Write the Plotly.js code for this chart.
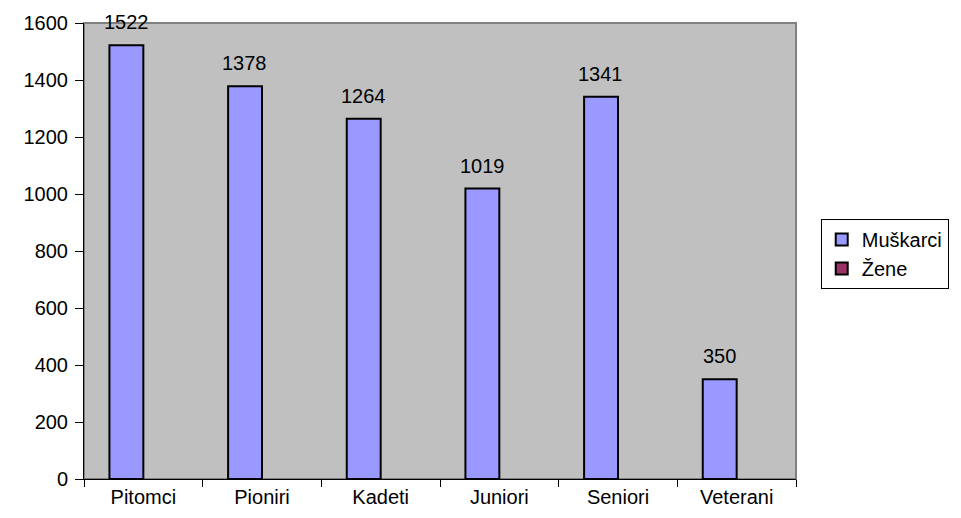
<!DOCTYPE html>
<html>
<head>
<meta charset="utf-8">
<script src="https://cdn.plot.ly/plotly-3.0.1.min.js"></script>
<style>html,body{margin:0;padding:0;background:#fff;}#chart{width:961px;height:518px;}</style>
</head>
<body>
<div id="chart"></div>
<script>
const categories = ["Pitomci", "Pioniri", "Kadeti", "Juniori", "Seniori", "Veterani"];
const muskarci = [1522, 1378, 1264, 1019, 1341, 350];
const zene = [null, null, null, null, null, null];
const yTicks = [0, 200, 400, 600, 800, 1000, 1200, 1400, 1600];

const FONT = "Arial, 'Liberation Sans', sans-serif";
const margin = {l: 84, r: 157, t: 23, b: 39};
const plotW = 961 - margin.l - margin.r;
const bargap = 1.5 / 3.5;
const catPx = plotW / categories.length;
const barPx = catPx * (1 - bargap) / 2;

const traces = [
  {type: "bar", name: "Muškarci", x: categories, y: muskarci,
   marker: {color: "#9999FF", line: {color: "#000000", width: 2}}, hoverinfo: "x+y"},
  {type: "bar", name: "Žene", x: categories, y: zene,
   marker: {color: "#993366", line: {color: "#000000", width: 2}}, hoverinfo: "x+y"}
];

const annotations = categories.map((c, i) => ({
  x: c, y: muskarci[i], xref: "x", yref: "y", text: String(muskarci[i]),
  showarrow: false, yanchor: "bottom", xanchor: "center",
  xshift: -barPx / 2, yshift: 10,
  font: {family: FONT, size: 20, color: "#000"}
}));

const layout = {
  width: 961, height: 518, margin: margin,
  paper_bgcolor: "#ffffff", plot_bgcolor: "#C0C0C0",
  barmode: "group", bargap: bargap, bargroupgap: 0,
  font: {family: FONT, size: 20, color: "#000"},
  showlegend: true,
  legend: {x: (829 - margin.l) / plotW, xanchor: "left", y: (479 - 219) / 456, yanchor: "top",
           bgcolor: "#ffffff", bordercolor: "#000000", borderwidth: 1,
           font: {family: FONT, size: 20, color: "#000"}, tracegroupgap: 0, itemwidth: 30},
  xaxis: {type: "category", showgrid: false, zeroline: false, showline: true, linecolor: "#000", linewidth: 1,
          ticks: "outside", tickson: "boundaries", ticklen: 7, tickcolor: "#000", tickwidth: 1,
          tickfont: {family: FONT, size: 20, color: "#000"}, fixedrange: true},
  yaxis: {range: [0, 1600], tickvals: yTicks, ticktext: yTicks.map(String), showgrid: false, zeroline: false,
          showline: true, linecolor: "#000", linewidth: 1, ticks: "outside", ticklen: 8, tickcolor: "#000",
          tickfont: {family: FONT, size: 20, color: "#000"}, ticklabelstandoff: 3, fixedrange: true},
  shapes: [{type: "rect", xref: "paper", yref: "paper", x0: 0, x1: 1, y0: 0, y1: 1,
            line: {color: "#808080", width: 2}, layer: "below"}],
  annotations: annotations
};

Plotly.newPlot("chart", traces, layout, {displayModeBar: false, staticPlot: true});
</script>
</body>
</html>
